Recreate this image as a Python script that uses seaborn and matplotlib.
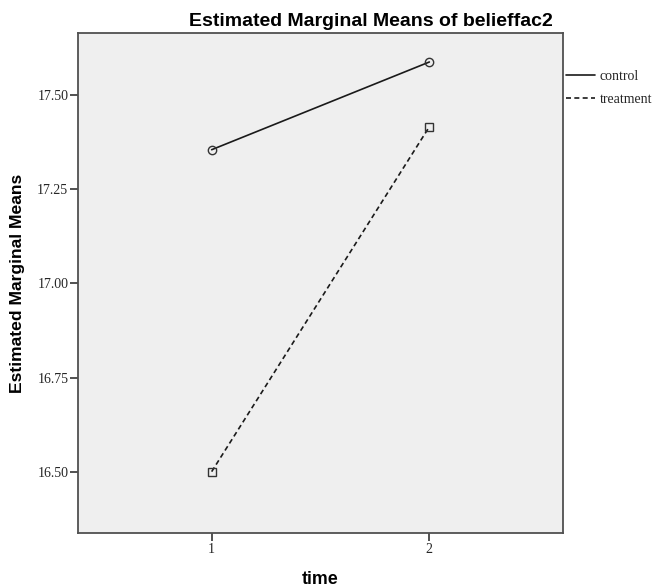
import matplotlib
matplotlib.use("Agg")
import matplotlib.pyplot as plt
import seaborn as sns
import pandas as pd
from matplotlib.lines import Line2D

time_levels = [1, 2]
groups = ["control", "treatment"]
control_means = [17.355, 17.588]
treatment_means = [16.50, 17.416]
y_ticks = [16.50, 16.75, 17.00, 17.25, 17.50]

df = pd.DataFrame({
    "time": time_levels * 2,
    "mean": control_means + treatment_means,
    "group": [groups[0]] * 2 + [groups[1]] * 2,
})

sns.set_theme(style="ticks")
fig = plt.figure(figsize=(6.68, 5.88), dpi=100)
ax = fig.add_axes([78 / 668, 1 - 533 / 588, (563 - 78) / 668, (533 - 33) / 588])
ax.set_facecolor("#EFEFEF")

line_color = "#1a1a1a"
sns.lineplot(data=df, x="time", y="mean", hue="group", style="group",
             palette={"control": line_color, "treatment": line_color},
             markers={"control": "o", "treatment": "s"},
             dashes={"control": "", "treatment": (3, 2)},
             markersize=6, markerfacecolor="none", markeredgecolor="#333333",
             markeredgewidth=1.0, linewidth=1.2, legend=False, ax=ax)

ax.set_xlim(0.386, 2.614)
ax.set_ylim(16.337, 17.665)
ax.set_xticks(time_levels)
ax.set_xticklabels([str(t) for t in time_levels], family="Liberation Serif", fontsize=10)
ax.set_yticks(y_ticks)
ax.set_yticklabels([f"{v:.2f}" for v in y_ticks], family="Liberation Serif", fontsize=10)
ax.tick_params(direction="out", length=6, width=1.2, color="#333333", pad=1)

for s in ax.spines.values():
    s.set_visible(True)
    s.set_color("#505050")
    s.set_linewidth(1.3)

ax.set_xlabel("time", family="Liberation Sans", fontweight="bold", fontsize=12.8,
              labelpad=11, color="black")
ax.set_ylabel("Estimated Marginal Means", family="Liberation Sans", fontweight="bold",
              fontsize=12.6, labelpad=9, color="black")
fig.text(371 / 668, 1 - 26 / 588, "Estimated Marginal Means of belieffac2",
         family="Liberation Sans", fontweight="bold", fontsize=14,
         ha="center", va="baseline", color="black")

handles = [Line2D([0], [0], color=line_color, lw=1.2, linestyle="-"),
           Line2D([0], [0], color=line_color, lw=1.2, linestyle=(0, (3, 2)))]
leg = ax.legend(handles, groups, loc="upper left", bbox_to_anchor=(1.006, 0.926),
                frameon=False, handlelength=2.1, handletextpad=0.35, labelspacing=0.72,
                borderaxespad=0, borderpad=0,
                prop={"family": "Liberation Serif", "size": 10})

fig.savefig("out.png", dpi=100)
